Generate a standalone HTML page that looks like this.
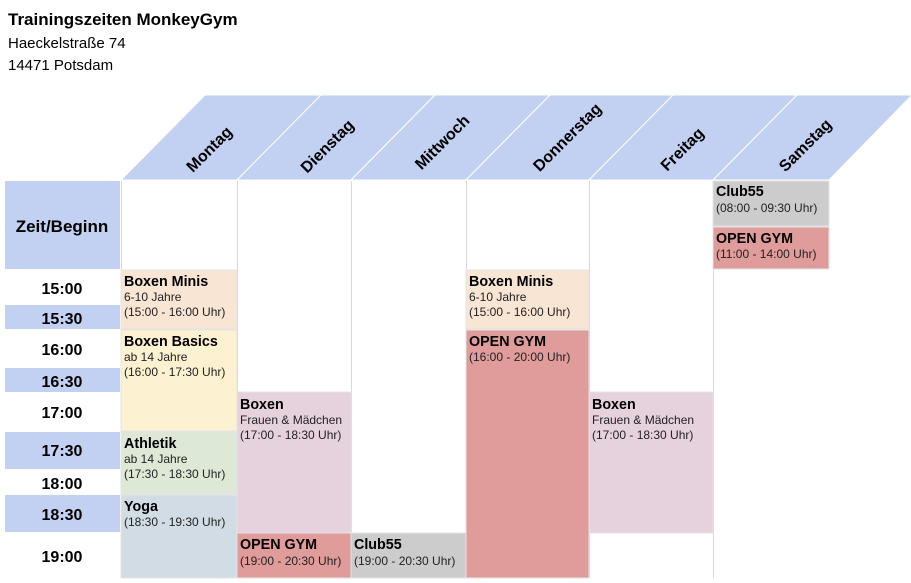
<!DOCTYPE html>
<html><head><meta charset="utf-8"><style>
body{margin:0;background:#fff;}
svg{display:block;font-family:"Liberation Sans",Arial,sans-serif;}
.t{font-weight:bold;font-size:14.3px;fill:#000}
.d{font-size:12px;fill:#222}
.tm{font-weight:bold;font-size:16px;text-anchor:middle}
.h{font-weight:bold;font-size:16px;text-anchor:middle}
</style></head><body>
<svg width="911" height="583" viewBox="0 0 911 583">
<text x="8" y="25" style="font-weight:bold;font-size:17px">Trainingszeiten MonkeyGym</text>
<text x="8" y="48" style="font-size:15px">Haeckelstraße 74</text>
<text x="8" y="70" style="font-size:15px">14471 Potsdam</text>
<g fill="#c2d0f1" stroke="#fff" stroke-width="1">
<polygon points="121,180 205,95 321,95 237,180"/>
<polygon points="237,180 321,95 435,95 351,180"/>
<polygon points="351,180 435,95 550,95 466,180"/>
<polygon points="466,180 550,95 673,95 589,180"/>
<polygon points="589,180 673,95 797,95 713,180"/>
<polygon points="713,180 797,95 912,95 829,180"/>
</g>
<g class="h">
<text transform="translate(213,153) rotate(-45)">Montag</text>
<text transform="translate(331,150) rotate(-45)">Dienstag</text>
<text transform="translate(446,146) rotate(-45)">Mittwoch</text>
<text transform="translate(571,141) rotate(-45)">Donnerstag</text>
<text transform="translate(686,153) rotate(-45)">Freitag</text>
<text transform="translate(809,149) rotate(-45)">Samstag</text>
</g>
<g fill="#c2d0f1">
<rect x="5" y="181" width="115" height="88"/>
<rect x="5" y="305" width="115" height="24"/>
<rect x="5" y="368" width="115" height="24"/>
<rect x="5" y="432" width="115" height="37"/>
<rect x="5" y="495" width="115" height="37"/>
</g>
<text x="62" y="232" class="tm" style="font-size:17px">Zeit/Beginn</text>
<g class="tm">
<text x="62" y="294">15:00</text>
<text x="62" y="324">15:30</text>
<text x="62" y="355">16:00</text>
<text x="62" y="387">16:30</text>
<text x="62" y="418">17:00</text>
<text x="62" y="456">17:30</text>
<text x="62" y="489">18:00</text>
<text x="62" y="520">18:30</text>
<text x="62" y="562">19:00</text>
</g>
<g stroke="#d9d9d9" stroke-width="1">
<line x1="121.5" y1="181" x2="121.5" y2="578"/>
<line x1="237.5" y1="181" x2="237.5" y2="578"/>
<line x1="351.5" y1="181" x2="351.5" y2="578"/>
<line x1="466.5" y1="181" x2="466.5" y2="578"/>
<line x1="589.5" y1="181" x2="589.5" y2="578"/>
<line x1="713.5" y1="181" x2="713.5" y2="578"/>
</g>
<g stroke="#e4e4e4" stroke-width="1">
<rect x="121" y="270" width="116" height="59" fill="#f8e5d3"/>
<rect x="121" y="330" width="116" height="101" fill="#fcf1d0"/>
<rect x="121" y="432" width="116" height="62" fill="#dde9d6"/>
<rect x="121" y="495" width="116" height="83" fill="#d1dce4"/>
<rect x="237" y="392" width="114" height="141" fill="#e6d2dc"/>
<rect x="237" y="533" width="114" height="45" fill="#e09b9b"/>
<rect x="351" y="533" width="115" height="45" fill="#cccccc"/>
<rect x="466" y="270" width="123" height="59" fill="#f8e5d3"/>
<rect x="466" y="330" width="123" height="248" fill="#e09b9b"/>
<rect x="589" y="392" width="124" height="141" fill="#e6d2dc"/>
<rect x="713" y="181" width="116" height="45" fill="#cccccc"/>
<rect x="713" y="227" width="116" height="42" fill="#e09b9b"/>
</g>
<text x="124" y="286" class="t">Boxen Minis</text>
<text x="124" y="301" class="d">6-10 Jahre</text>
<text x="124" y="316" class="d">(15:00 - 16:00 Uhr)</text>
<text x="124" y="346" class="t">Boxen Basics</text>
<text x="124" y="361" class="d">ab 14 Jahre</text>
<text x="124" y="376" class="d">(16:00 - 17:30 Uhr)</text>
<text x="124" y="448" class="t">Athletik</text>
<text x="124" y="463" class="d">ab 14 Jahre</text>
<text x="124" y="478" class="d">(17:30 - 18:30 Uhr)</text>
<text x="124" y="511" class="t">Yoga</text>
<text x="124" y="526" class="d">(18:30 - 19:30 Uhr)</text>
<text x="240" y="409" class="t">Boxen</text>
<text x="240" y="424" class="d">Frauen &amp; Mädchen</text>
<text x="240" y="439" class="d">(17:00 - 18:30 Uhr)</text>
<text x="240" y="549" class="t">OPEN GYM</text>
<text x="240" y="565" class="d">(19:00 - 20:30 Uhr)</text>
<text x="354" y="549" class="t">Club55</text>
<text x="354" y="565" class="d">(19:00 - 20:30 Uhr)</text>
<text x="469" y="286" class="t">Boxen Minis</text>
<text x="469" y="301" class="d">6-10 Jahre</text>
<text x="469" y="316" class="d">(15:00 - 16:00 Uhr)</text>
<text x="469" y="346" class="t">OPEN GYM</text>
<text x="469" y="361" class="d">(16:00 - 20:00 Uhr)</text>
<text x="592" y="409" class="t">Boxen</text>
<text x="592" y="424" class="d">Frauen &amp; Mädchen</text>
<text x="592" y="439" class="d">(17:00 - 18:30 Uhr)</text>
<text x="716" y="196" class="t">Club55</text>
<text x="716" y="212" class="d">(08:00 - 09:30 Uhr)</text>
<text x="716" y="243" class="t">OPEN GYM</text>
<text x="716" y="258" class="d">(11:00 - 14:00 Uhr)</text>
</svg>
</body></html>
